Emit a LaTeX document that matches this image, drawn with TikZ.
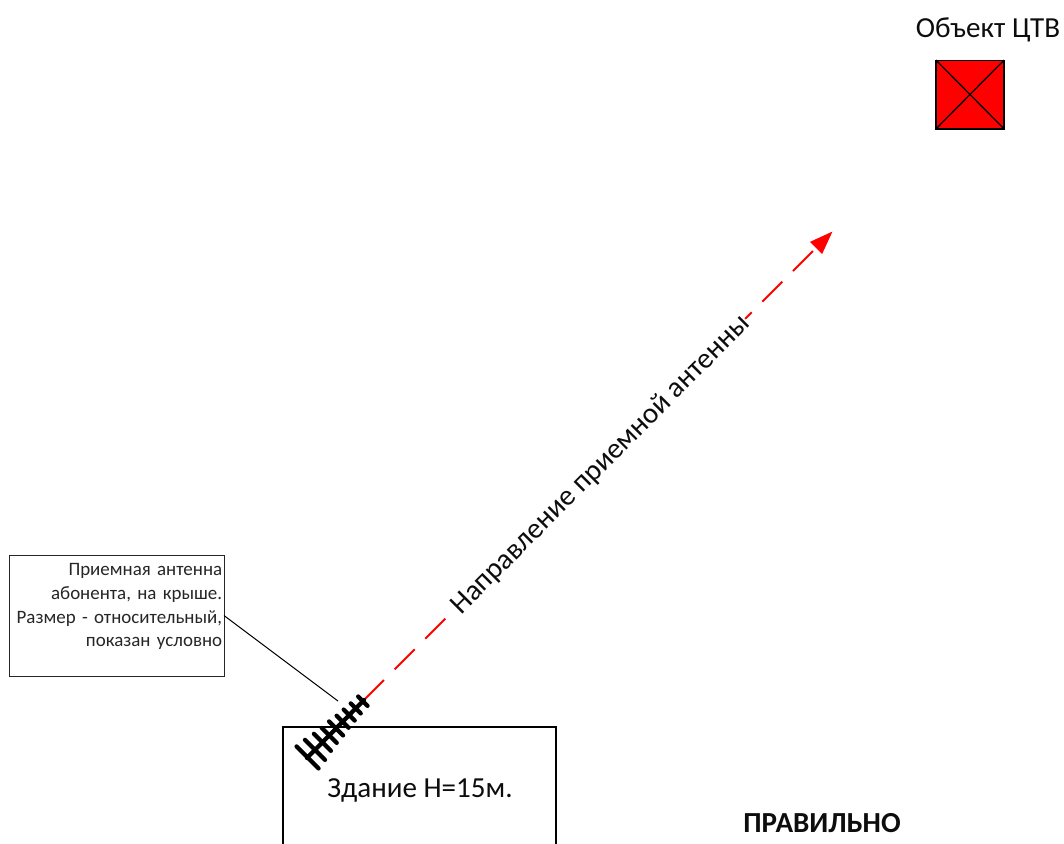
\documentclass[tikz,border=0pt]{standalone}
\usepackage{fontspec}
\setmainfont{Carlito}
\usetikzlibrary{arrows.meta}
\tikzset{
  every node/.style={inner sep=0pt,outer sep=0pt},
  px/.style={x=0.75pt,y=-0.75pt},
  title/.style={font=\fontsize{21.8pt}{26pt}\selectfont,text=black!95},
  beam/.style={red,line width=1.5pt,dash pattern=on 21.2pt off 11.3pt,-{Triangle[length=17.5pt,width=12.5pt,fill=red]}},
  element/.style={black,line width=3.2pt,line cap=round},
  callbox/.style={draw=black!85,line width=0.75pt,fill=white,minimum width=161.25pt,minimum height=90.75pt,align=right,text width=158.5pt,font=\fontsize{14.2pt}{17.75pt}\selectfont,text=black!85},
  leader/.style={black,line width=0.75pt},
  wall/.style={black,line width=1.1pt}
}
\begin{document}
\begin{tikzpicture}[px]
\useasboundingbox (0,0) rectangle (1064,843);
% target object
\node[title] (ctvlabel) at (988,30) {Объект ЦТВ};
\node[draw=black,fill=red,line width=1pt,minimum width=51pt,minimum height=51.5pt] (ctv) at (970,94.5) {};
\draw[line width=1pt] (ctv.north west) -- (ctv.south east) (ctv.north east) -- (ctv.south west);
% building
\coordinate (bl) at (283,850);
\coordinate (tl) at (283,727);
\coordinate (tr) at (556,727);
\coordinate (br) at (556,850);
\draw[wall] (bl) -- (tl) -- (tr) -- (br);
\node[title] (bname) at (420,790) {Здание Н=15м.};
\node[font=\fontsize{21.8pt}{26pt}\selectfont\bfseries,text=black!95] (verdict) at (822,823) {ПРАВИЛЬНО};
% beam
\coordinate (antfront) at (364,700);
\coordinate (antback) at (307,758);
\coordinate (tip) at (832.5,231.5);
\draw[beam] (antfront) -- (tip);
\node[fill=white,rotate=45,title] (beamlabel) at (601,465) {Направление приемной антенны};
% antenna
\draw[element] (antfront) -- (antback);
\foreach \t/\l in {0.02/4.7,0.145/5,0.26/5.5,0.375/6,0.49/7,0.61/7.5,0.73/8.5,0.86/10,0.99/11}{
  \path (antfront) -- (antback) coordinate[pos=\t] (c);
  \draw[element] ([shift={(-\l,-\l)}]c) -- ([shift={(\l,\l)}]c);
}
% callout
\node[callbox] (note) at (116.5,615.5) {Приемная антенна\\абонента, на крыше.\\Размер - относительный,\\показан условно\\[-7.5pt]\strut};
\coordinate (noteend) at (338,701);
\draw[leader] (note.east) -- (noteend);
\end{tikzpicture}
\end{document}
